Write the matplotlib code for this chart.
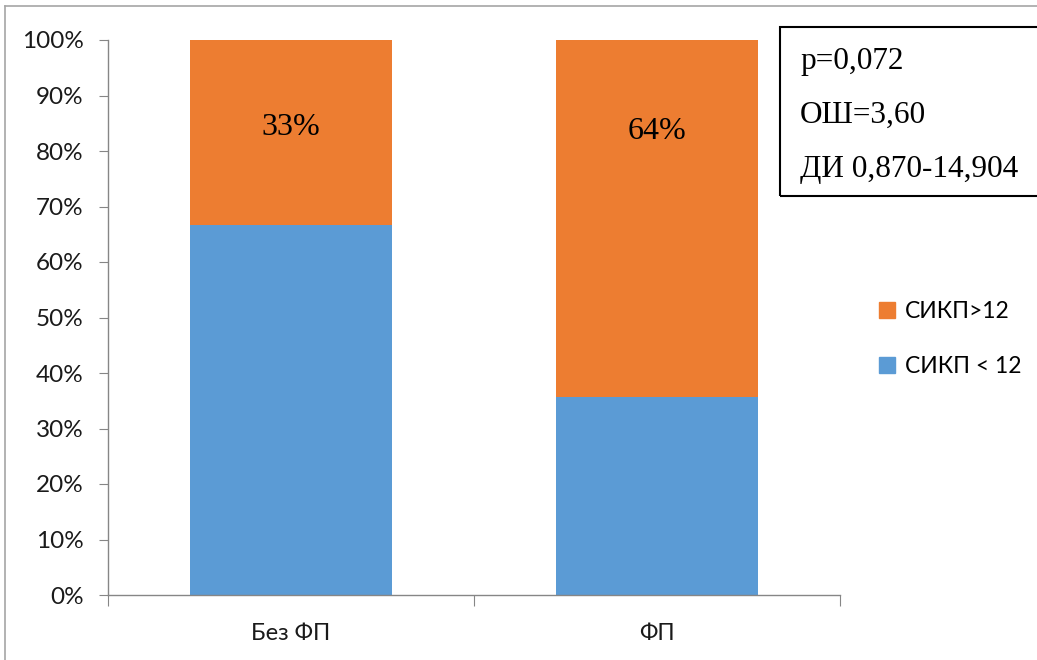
import matplotlib
matplotlib.use("Agg")
import matplotlib.pyplot as plt
from matplotlib.patches import Rectangle
from matplotlib.lines import Line2D

categories = ["Без ФП", "ФП"]
below_12 = [66.7, 35.7]   # СИКП < 12, %
above_12 = [33.3, 64.3]   # СИКП>12, %
bar_labels = ["33%", "64%"]
series_names = ["СИКП>12", "СИКП < 12"]
stats_lines = ["p=0,072", "ОШ=3,60", "ДИ 0,870-14,904"]
yticks = list(range(0, 101, 10))

BLUE = "#5B9BD5"
ORANGE = "#ED7D31"
AXIS_GRAY = "#868686"
W, H = 1037, 660

fig = plt.figure(figsize=(W / 100, H / 100), dpi=100)
ax = fig.add_axes([108 / W, 1 - 595 / H, (840 - 108) / W, (595 - 40) / H])

x = list(range(len(categories)))
ax.bar(x, below_12, width=0.55, color=BLUE, zorder=2)
ax.bar(x, above_12, width=0.55, bottom=below_12, color=ORANGE, zorder=2)

for xi, lab in zip(x, bar_labels):
    ax.text(xi, 84.2 if xi == 0 else 83.5, lab, ha="center", va="center",
            fontsize=23, family="Liberation Serif", color="black")

ax.set_xlim(-0.5, 1.5)
ax.set_ylim(0, 100)
ax.set_yticks(yticks)
ax.set_yticklabels([f"{v}%" for v in yticks], fontsize=17.5, family="Lato", color="#1a1a1a")
ax.tick_params(axis="y", direction="out", length=6.5, color=AXIS_GRAY, pad=11)

ax.set_xticks([-0.5, 0.5, 1.5])
ax.set_xticklabels([])
ax.tick_params(axis="x", which="major", direction="out", length=8, color=AXIS_GRAY)
ax.set_xticks(x, minor=True)
ax.set_xticklabels(categories, minor=True, fontsize=17, family="Lato", color="#1a1a1a")
ax.tick_params(axis="x", which="minor", length=0, pad=20)

for side in ("top", "right"):
    ax.spines[side].set_visible(False)
for side in ("left", "bottom"):
    ax.spines[side].set_color(AXIS_GRAY)
    ax.spines[side].set_linewidth(1.0)

# legend
handles = [Rectangle((0, 0), 1, 1, color=ORANGE), Rectangle((0, 0), 1, 1, color=BLUE)]
fig.legend(handles, series_names, loc="center left",
           bbox_to_anchor=(858 / W, 1 - 339 / H), frameon=False,
           prop={"family": "Lato", "size": 16.5}, handlelength=0.7, handleheight=0.7,
           handletextpad=0.45, labelspacing=1.45)

# statistics box
fig.patches.append(Rectangle((780 / W, 1 - 196 / H), (1040 - 780) / W, (196 - 27) / H,
                             transform=fig.transFigure, fill=False, edgecolor="black",
                             linewidth=1.5))
for yy, line in zip([62, 115, 169], stats_lines):
    fig.text(800 / W, 1 - yy / H, line, ha="left", va="center", fontsize=22.5,
             family="Liberation Serif", color="black")

# outer frame
fig.lines.append(Line2D([5 / W, 5 / W], [0, 1 - 6 / H], transform=fig.transFigure,
                        color="#A6A6A6", linewidth=1.2))
fig.lines.append(Line2D([5 / W, 1], [1 - 6 / H, 1 - 6 / H], transform=fig.transFigure,
                        color="#A6A6A6", linewidth=1.2))

fig.savefig("out.png", dpi=100)
